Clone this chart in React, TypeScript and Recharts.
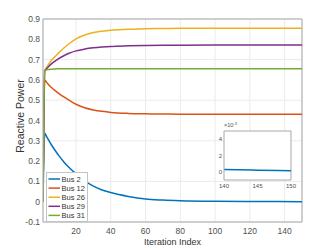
import React from 'react';
import {
  LineChart, Line, XAxis, YAxis, CartesianGrid, ReferenceLine, Legend, Label,
} from 'recharts';

// ---- data ----
const iterations = [1, 2, 3, 4, 6, 8, 10, 13, 16, 20, 25, 30, 35, 40, 50, 60, 70, 80, 100, 120, 150];
const bus2 = [0, 0.337, 0.322, 0.307, 0.278, 0.252, 0.228, 0.196, 0.168, 0.137, 0.103, 0.077, 0.058, 0.045, 0.026, 0.013, 0.008, 0.005, 0.002, 0.001, 0.0002];
const bus12 = [0, 0.6, 0.589, 0.579, 0.561, 0.547, 0.534, 0.516, 0.5, 0.48, 0.463, 0.452, 0.445, 0.44, 0.435, 0.433, 0.432, 0.431, 0.431, 0.431, 0.431];
const bus26 = [0, 0.645, 0.66, 0.674, 0.699, 0.716, 0.733, 0.757, 0.778, 0.802, 0.821, 0.833, 0.84, 0.845, 0.849, 0.852, 0.853, 0.854, 0.855, 0.855, 0.855];
const bus29 = [0, 0.645, 0.655, 0.664, 0.68, 0.693, 0.705, 0.719, 0.731, 0.743, 0.752, 0.758, 0.762, 0.765, 0.768, 0.77, 0.771, 0.771, 0.772, 0.772, 0.772];
const bus31 = [0, 0.645, 0.649, 0.651, 0.653, 0.654, 0.655, 0.655, 0.655, 0.655, 0.655, 0.655, 0.655, 0.655, 0.655, 0.655, 0.655, 0.655, 0.655, 0.655, 0.655];

const seriesNames = ['Bus 2', 'Bus 12', 'Bus 26', 'Bus 29', 'Bus 31'];
const seriesColors = ['#0072BD', '#D95319', '#EDB120', '#7E2F8E', '#77AC30'];
const seriesValues = [bus2, bus12, bus26, bus29, bus31];

const xTicks = [20, 40, 60, 80, 100, 120, 140];
const yTicks = [-0.1, 0, 0.1, 0.2, 0.3, 0.4, 0.5, 0.6, 0.7, 0.8, 0.9];

const insetIterations = [140, 145, 150];
const insetBus2 = [0.00029, 0.0002, 0.00013];
const insetXTicks = [140, 145, 150];
const insetYTicks = [0, 0.002, 0.004];

const data = iterations.map((it, i) => {
  const row: Record<string, number> = { it };
  seriesNames.forEach((n, k) => { row[n] = seriesValues[k][i]; });
  return row;
});
const insetData = insetIterations.map((it, i) => ({ it, v: insetBus2[i] }));

const FONT = '"Liberation Sans", Arial, Helvetica, sans-serif';
const AXIS = '#a8a8a8';
const GRID = '#ebebeb';
const TEXT = '#505050';

const LegendBox = () => (
  <svg width={42} height={50} style={{ display: 'block' }}>
    <rect x={0.5} y={0.5} width={41} height={49} fill="#fff" stroke="#c4c4c4" strokeWidth={1} />
    {seriesNames.map((n, i) => (
      <g key={n}>
        <line x1={2.5} x2={14} y1={7 + 9.1 * i} y2={7 + 9.1 * i} stroke={seriesColors[i]} strokeWidth={1.5} />
        <text x={15.5} y={7 + 9.1 * i} dy="0.35em" fontSize={7.5} fill="#333" fontFamily={FONT}>{n}</text>
      </g>
    ))}
  </svg>
);

const fmtY = (v: number) => (Math.abs(v) < 1e-9 ? '0' : v.toFixed(1));

export default function App() {
  return (
    <div style={{ position: 'relative', width: 326, height: 243, fontFamily: FONT }}>
      <LineChart width={326} height={243} data={data} margin={{ top: 11, right: 32, bottom: 0, left: 0 }}>
        <CartesianGrid stroke={GRID} strokeWidth={1} />
        <XAxis
          dataKey="it" type="number" domain={[1, 150]} ticks={xTicks} allowDataOverflow
          height={29} stroke={AXIS} tickLine={false} tickSize={0} tickMargin={6}
          tick={{ fontSize: 8.5, fill: TEXT, fontFamily: FONT }}
        >
          <Label
            content={() => (
              <text x={164.5} y={233.5} dy="0.35em" textAnchor="middle" fontSize={9} fill="#333" fontFamily={FONT}>Iteration Index</text>
            )}
          />
        </XAxis>
        <YAxis
          type="number" domain={[-0.1, 0.9]} ticks={yTicks} allowDataOverflow width={35}
          stroke={AXIS} tickLine={false} tickSize={0} tickMargin={3} tickFormatter={fmtY}
          tick={{ fontSize: 8.5, fill: TEXT, fontFamily: FONT }}
        >
          <Label
            content={() => (
              <text x={12} y={108} dy="0.35em" textAnchor="middle" fontSize={10.5} fill="#333" fontFamily={FONT} transform="rotate(-90 12 108)">Reactive Power</text>
            )}
          />
        </YAxis>
        <ReferenceLine y={0.9} stroke={AXIS} strokeWidth={1} />
        <ReferenceLine x={150} stroke={AXIS} strokeWidth={1} />
        {seriesNames.map((n, k) => (
          <Line key={n} dataKey={n} name={n} type="monotone" stroke={seriesColors[k]} strokeWidth={1.5} dot={false} isAnimationActive={false} />
        ))}
        <Legend
          layout="horizontal" verticalAlign="middle" align="center"
          wrapperStyle={{ left: 38, top: 163.5, width: 42, height: 50 }}
          content={() => <LegendBox />}
        />
      </LineChart>

      <div style={{ position: 'absolute', left: 196, top: 113 }}>
        <LineChart width={95} height={71} data={insetData} margin={{ top: 10, right: 8, bottom: 0, left: 0 }}>
          <CartesianGrid fill="#fff" fillOpacity={1} horizontal={false} vertical={false} stroke="none" />
          <XAxis
            dataKey="it" type="number" domain={[140, 150]} ticks={insetXTicks} allowDataOverflow
            height={12} stroke={AXIS} tickLine={false} tickSize={0} tickMargin={4}
            tick={{ fontSize: 6, fill: TEXT, fontFamily: FONT }}
          />
          <YAxis
            type="number" domain={[-0.001, 0.005]} ticks={insetYTicks} allowDataOverflow width={20}
            stroke={AXIS} tickLine={false} tickSize={0} tickMargin={2}
            tickFormatter={(v: number) => String(Math.round(v * 1000))}
            tick={{ fontSize: 6, fill: TEXT, fontFamily: FONT }}
          >
            <Label
              content={() => (
                <text x={20} y={6} fontSize={5.5} fill={TEXT} fontFamily={FONT}>
                  ×10<tspan dy={-2.5} fontSize={4}>-3</tspan>
                </text>
              )}
            />
          </YAxis>
          <ReferenceLine y={0.005} stroke={AXIS} strokeWidth={1} />
          <ReferenceLine x={150} stroke={AXIS} strokeWidth={1} />
          <Line dataKey="v" type="monotone" stroke="#0072BD" strokeWidth={1.5} dot={false} isAnimationActive={false} />
        </LineChart>
      </div>
    </div>
  );
}
